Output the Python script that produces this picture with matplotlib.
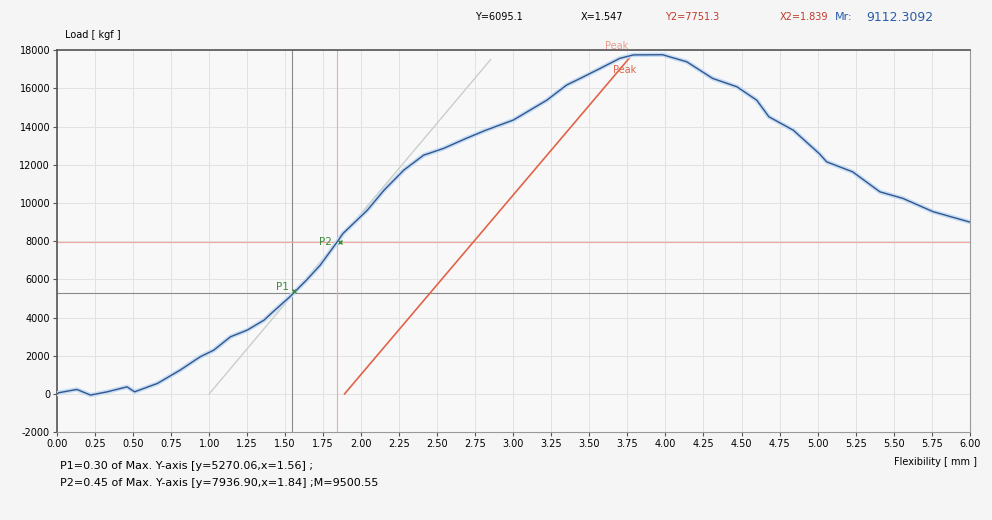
import numpy as np
import matplotlib
matplotlib.use('Agg')
import matplotlib.pyplot as plt

plt.rcParams['font.family'] = ['DejaVu Sans']

# 하중-변위 곡선
flex = [0.00, 0.01, 0.13, 0.22, 0.33, 0.46, 0.51, 0.66, 0.81, 0.94, 1.03, 1.14,
        1.25, 1.36, 1.42, 1.53, 1.64, 1.73, 1.84, 1.88, 2.04, 2.15, 2.28, 2.41,
        2.54, 2.69, 2.82, 3.00, 3.11, 3.22, 3.35, 3.46, 3.57, 3.70, 3.79, 3.98,
        4.14, 4.31, 4.47, 4.60, 4.68, 4.84, 5.01, 5.06, 5.23, 5.41, 5.56, 5.76, 6.00]
load = [0, 60, 235, -60, 110, 370, 110, 550, 1250, 1940, 2290, 2990,
        3340, 3860, 4300, 5080, 5960, 6740, 7940, 8400, 9620, 10670, 11720, 12500,
        12850, 13380, 13810, 14340, 14860, 15380, 16170, 16600, 17040, 17570, 17750, 17760,
        17390, 16520, 16080, 15380, 14510, 13810, 12590, 12150, 11630, 10580, 10240, 9540, 9000]

# 접선 / 평행선
tangent_x = [1.00, 2.85]
tangent_y = [0, 17500]
offset_x = [1.89, 3.78]
offset_y = [0, 17750]

p1_x, p1_y = 1.547, 5270
p2_x, p2_y = 1.839, 7937

fig = plt.figure(figsize=(9.92, 5.2), dpi=100, facecolor='#f5f5f5')
ax = fig.add_axes([0.0575, 0.169, 0.920, 0.7346], facecolor='#f8f8f8')

ax.plot(flex, load, color='#c6ddf3', lw=3.2, zorder=3)
ax.plot(flex, load, color='#34568f', lw=1.0, zorder=4)

ax.plot(tangent_x, tangent_y, color='#c9cfc9', lw=1.0, zorder=2)
ax.plot(offset_x, offset_y, color='#e0644a', lw=1.2, zorder=2)

ax.axvline(p1_x, color='#8a8a8a', lw=0.8, zorder=1)
ax.axhline(p1_y, color='#8a8a8a', lw=0.8, zorder=1)
ax.axvline(p2_x, color='#f0a8a0', lw=0.8, zorder=1)
ax.axhline(p2_y, color='#f0a8a0', lw=0.8, zorder=1)

ax.text(1.44, 5350, 'P1', color='#3c8a3c', fontsize=7.5, ha='left', va='bottom', zorder=5)
ax.plot([1.56], [5400], marker='x', color='#3c8a3c', ms=3, zorder=5)
ax.text(1.72, 7700, 'P2', color='#3c8a3c', fontsize=7.5, ha='left', va='bottom', zorder=5)
ax.plot([1.86], [7950], marker='x', color='#3c8a3c', ms=3, zorder=5)
ax.text(3.73, 16700, 'Peak', color='#e0644a', fontsize=7, ha='center', va='bottom', zorder=5)
ax.text(3.68, 17950, 'Peak', color='#e0644a', fontsize=7, ha='center', va='bottom',
        alpha=0.6, zorder=5, clip_on=False)

ax.set_xlim(0, 6)
ax.set_ylim(-2000, 18000)
ax.set_xticks(np.arange(0, 6.01, 0.25))
ax.set_xticklabels([f'{v:.2f}' for v in np.arange(0, 6.01, 0.25)], fontsize=7)
ax.set_yticks(np.arange(-2000, 18001, 2000))
ax.set_yticklabels([str(v) for v in range(-2000, 18001, 2000)], fontsize=7)
ax.tick_params(axis='both', length=3, width=0.8, color='#555555', pad=2)
ax.grid(True, color='#e2e2e2', lw=0.7)
ax.set_axisbelow(True)
for side in ['left', 'top']:
    ax.spines[side].set_color('#555555')
    ax.spines[side].set_linewidth(1.2)
for side in ['right', 'bottom']:
    ax.spines[side].set_color('#999999')
    ax.spines[side].set_linewidth(0.8)

fig.text(0.066, 0.933, 'Load [ kgf ]', fontsize=7, va='center', ha='left')
fig.text(0.479, 0.967, 'Y=6095.1', fontsize=7, va='center', ha='left')
fig.text(0.585, 0.967, 'X=1.547', fontsize=7, va='center', ha='left')
fig.text(0.670, 0.967, 'Y2=7751.3', fontsize=7, va='center', ha='left', color='#c0392b')
fig.text(0.786, 0.967, 'X2=1.839', fontsize=7, va='center', ha='left', color='#c0392b')
fig.text(0.842, 0.967, 'Mr:', fontsize=8, va='center', ha='left', color='#2a5caa')
fig.text(0.873, 0.967, '9112.3092', fontsize=9, va='center', ha='left', color='#2a5caa')

fig.text(0.985, 0.112, 'Flexibility [ mm ]', fontsize=7, va='center', ha='right')
fig.text(0.060, 0.104, 'P1=0.30 of Max. Y-axis [y=5270.06,x=1.56] ;', fontsize=8, va='center', ha='left')
fig.text(0.060, 0.071, 'P2=0.45 of Max. Y-axis [y=7936.90,x=1.84] ;M=9500.55', fontsize=8, va='center', ha='left')

plt.savefig('out.png', dpi=100, facecolor=fig.get_facecolor())
print('저장 완료: out.png')
